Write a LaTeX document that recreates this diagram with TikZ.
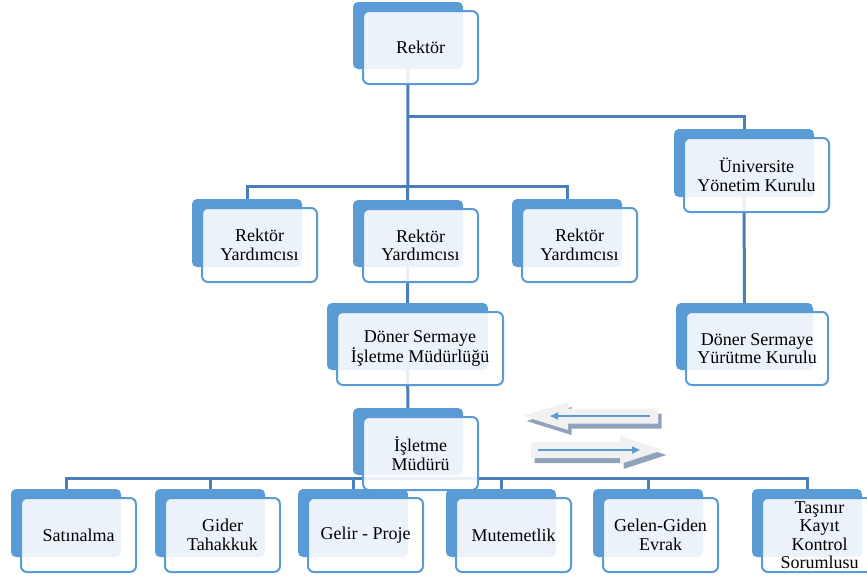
\documentclass[tikz,border=0pt]{standalone}
\usepackage{fontspec}
\setmainfont{Liberation Serif}
\usetikzlibrary{arrows.meta}
\pgfdeclarelayer{bg}
\pgfsetlayers{bg,main}
\definecolor{boxblue}{HTML}{5B9BD5}
\definecolor{linkblue}{HTML}{4A7EBB}
\definecolor{arrfill}{HTML}{F1F1F1}
\definecolor{arrshadow}{HTML}{8FA3BC}
\tikzset{
 backbox/.style={fill=boxblue, draw=none, rounded corners=5pt, inner sep=0pt},
 frontbox/.style={fill=white, fill opacity=0.88, draw=boxblue, line width=2pt, rounded corners=6pt, inner sep=0pt},
 boxtext/.style={align=center, font=\fontsize{18}{18.5}\selectfont, inner sep=0pt, text=black},
 conn/.style={draw=linkblue, line width=3pt},
 flowarrow/.style={fill=arrfill, draw=none},
 flowshadow/.style={fill=arrshadow, draw=none},
 flowline/.style={draw=boxblue, line width=1.5pt, -{Triangle[length=8pt,width=7pt]}},
}
\newcommand\orgbox[6]{%
 \pgfmathsetmacro\bcx{#2+#4/2}\pgfmathsetmacro\bcy{#3+#5/2}%
 \pgfmathsetmacro\fw{#4+5}\pgfmathsetmacro\fh{#5+6}%
 \node[backbox, minimum width=#4pt, minimum height=#5pt] (#1B) at (\bcx,\bcy) {};
 \node[frontbox, minimum width=\fw pt, minimum height=\fh pt] (#1F) at (\bcx+12.5,\bcy+12) {};
 \node[boxtext] (#1) at (#1F.center) {#6};
}
\newcommand\leftflow{(523,416) -- (568,402) -- (568,408.5) -- (658,408.5) -- (658,423.5) -- (568,423.5) -- (568,430) -- cycle}
\newcommand\rightflow{(663,450) -- (620,436) -- (620,442) -- (531,442) -- (531,458) -- (620,458) -- (620,464) -- cycle}
\begin{document}
\begin{tikzpicture}[x=1pt,y=-1pt]
\useasboundingbox (0,0) rectangle (867,576);
% boxes
\orgbox{rek}{353}{2}{110}{67}{Rektör}
\orgbox{uyk}{674}{129}{140}{68}{Üniversite\\Yönetim Kurulu}
\orgbox{ryA}{192}{199}{110}{68}{Rektör\\Yardımcısı}
\orgbox{ryB}{353}{200}{110}{67}{Rektör\\Yardımcısı}
\orgbox{ryC}{512}{199}{110}{68}{Rektör\\Yardımcısı}
\orgbox{dsim}{327}{303}{161}{67}{Döner Sermaye\\İşletme Müdürlüğü}
\orgbox{dsyk}{676}{303}{137}{67}{Döner Sermaye\\Yürütme Kurulu}
\orgbox{im}{353}{408}{110}{67}{İşletme\\Müdürü}
\orgbox{bA}{11}{489}{110}{68}{Satınalma}
\orgbox{bB}{155}{489}{110}{68}{Gider\\Tahakkuk}
\orgbox{bC}{298}{489}{110}{68}{Gelir - Proje}
\orgbox{bD}{446}{489}{110}{68}{Mutemetlik}
\orgbox{bE}{593}{489}{110}{68}{Gelen-Giden\\Evrak}
\orgbox{bF}{752}{489}{110}{68}{Taşınır\\Kayıt\\Kontrol\\Sorumlusu}
% connectors
\begin{pgfonlayer}{bg}
\coordinate (j1) at (408,116);
\coordinate (j2) at (408,186);
\coordinate (j3) at (408,478);
\draw[conn] (rekB.south) -- (dsimB.north);
\draw[conn] (dsimB.south) -- (imB.north);
\draw[conn] (j1) -| (uykB.north);
\draw[conn] (uykB.south) -- (dsykB.north);
\draw[conn] (ryAB.north) |- (j2) -| (ryCB.north);
\draw[conn] (bAB.north) |- (j3) -| (bFB.north);
\foreach \n in {bB,bC,bD,bE}{\draw[conn] (\n B.north) -- (\n B.north |- j3);}
\end{pgfonlayer}
% flow arrows
\begin{scope}[shift={(3.5,5)}]
\fill[flowshadow] \leftflow;
\fill[flowshadow] \rightflow;
\end{scope}
\fill[flowarrow] \leftflow;
\fill[flowarrow] \rightflow;
\coordinate (fl1) at (650,416);
\coordinate (fl2) at (550,416);
\coordinate (fr1) at (538,450);
\coordinate (fr2) at (640,450);
\draw[flowline] (fl1) -- (fl2);
\draw[flowline] (fr1) -- (fr2);
\end{tikzpicture}
\end{document}
